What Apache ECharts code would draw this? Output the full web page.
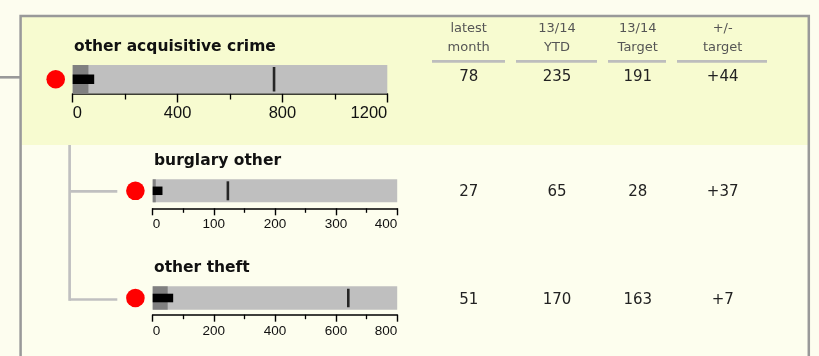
<!DOCTYPE html>
<html>
<head>
<meta charset="utf-8">
<script src="https://cdn.jsdelivr.net/npm/echarts@6/dist/echarts.min.js"></script>
<style>
html,body{margin:0;padding:0;background:#fdfdef;}
#chart{width:819px;height:356px;}
</style>
</head>
<body>
<div id="chart"></div>
<script>
// ---- data ----
const categories = ['other acquisitive crime', 'burglary other', 'other theft'];
const rangeMax = [1200, 400, 800];      // light grey qualitative range
const rangeLow = [60, 5, 49];           // dark grey qualitative range
const actual = [82, 16, 67];            // black bar
const marker = [768, 123, 640];         // target tick
const axisInterval = [400, 100, 200];
const headers = ['latest\nmonth', '13/14\nYTD', '13/14\nTarget', '+/-\ntarget'];
const latestMonth = ['78', '27', '51'];
const ytd = ['235', '65', '170'];
const targetVals = ['191', '28', '163'];
const plusMinus = ['+44', '+37', '+7'];

// ---- layout (not data) ----
const gridBoxes = [
  {left: 72.7, width: 314.6, top: 65, height: 28.5, offset: 0, barW: 9.5, mk: 24.5, fs: 16.5, margin: 11.5, tl: 9, ml: 6, dotMargin: 7.7},
  {left: 152.7, width: 244.5, top: 179.3, height: 23, offset: 6, barW: 8.5, mk: 19, fs: 13.5, margin: 8.5, tl: 7, ml: 4.5, dotMargin: 8},
  {left: 152.7, width: 244.5, top: 286.3, height: 23.4, offset: 5, barW: 8.6, mk: 18.5, fs: 13.5, margin: 9.5, tl: 7, ml: 4.5, dotMargin: 8}
];
const titleXY = [[74, 47], [154, 161], [154, 268.3]];
const rowY = [77.5, 192, 300];
const colX = [468.7, 557, 637.7, 722.7];
const underline = [[432, 505], [516, 597], [608, 666], [677, 767]];
const AXFONT = "'Liberation Sans Narrow', 'Liberation Sans', sans-serif";

const grids = [], xAxes = [], yAxes = [], series = [];
categories.forEach((cat, i) => {
  const g = gridBoxes[i];
  grids.push({left: g.left, top: g.top, width: g.width, height: g.height, containLabel: false});
  xAxes.push({
    gridIndex: i, type: 'value', min: 0, max: rangeMax[i], interval: axisInterval[i],
    offset: g.offset,
    axisLine: {show: true, onZero: false, lineStyle: {color: '#000', width: 1.6}},
    axisTick: {show: true, length: g.tl, lineStyle: {color: '#000', width: 1.4}},
    minorTick: {show: true, splitNumber: 2, length: g.ml, lineStyle: {color: '#000', width: 1.3}},
    splitLine: {show: false}, minorSplitLine: {show: false},
    axisLabel: {margin: g.margin, fontSize: g.fs, fontFamily: AXFONT, color: '#111',
      formatter: v => String(v),
      alignMinLabel: 'left', alignMaxLabel: 'right'}
  });
  yAxes.push({
    gridIndex: i, type: 'category', data: [cat],
    axisLine: {show: false}, axisTick: {show: false}, splitLine: {show: false},
    axisLabel: {show: true, margin: g.dotMargin, formatter: () => '{dot|}',
      rich: {dot: {width: 18.6, height: 18.6, borderRadius: 9.3, backgroundColor: '#ff0000'}}}
  });
  yAxes.push({
    gridIndex: i, type: 'category', data: [cat], show: false
  });
  const yi = i * 2;
  series.push({type: 'bar', xAxisIndex: i, yAxisIndex: yi, data: [rangeMax[i]],
    barWidth: '100%', barGap: '-100%', itemStyle: {color: '#bfbfbf'}, silent: true});
  series.push({type: 'bar', xAxisIndex: i, yAxisIndex: yi, data: [rangeLow[i]],
    barWidth: '100%', barGap: '-100%', itemStyle: {color: '#808080'}, silent: true});
  series.push({type: 'bar', xAxisIndex: i, yAxisIndex: yi + 1, data: [actual[i]],
    barWidth: g.barW, itemStyle: {color: '#000'}, z: 3, silent: true});
  series.push({type: 'scatter', xAxisIndex: i, yAxisIndex: yi, data: [[marker[i], 0]],
    symbol: 'rect', symbolSize: [2.6, g.mk], itemStyle: {color: '#000'}, z: 4, silent: true});
});

const graphics = [];
// backgrounds
graphics.push({type: 'rect', shape: {x: 21.5, y: 17, width: 787, height: 128}, style: {fill: '#f7fbd0'}, z: -10, silent: true});
graphics.push({type: 'rect', shape: {x: 21.5, y: 145, width: 787, height: 220}, style: {fill: '#fdfeee'}, z: -10, silent: true});
graphics.push({type: 'rect', shape: {x: 20.6, y: 16, width: 788.2, height: 400}, style: {fill: null, stroke: '#999', lineWidth: 2.5}, z: -5, silent: true});
graphics.push({type: 'line', shape: {x1: 0, y1: 77.3, x2: 20, y2: 77.3}, style: {stroke: '#999', lineWidth: 2.6}, z: -5, silent: true});
// tree
graphics.push({type: 'line', shape: {x1: 69.6, y1: 145, x2: 69.6, y2: 300.8}, style: {stroke: '#c0c0c0', lineWidth: 2.7}, silent: true});
graphics.push({type: 'line', shape: {x1: 69.6, y1: 191.3, x2: 117.3, y2: 191.3}, style: {stroke: '#c0c0c0', lineWidth: 2.7}, silent: true});
graphics.push({type: 'line', shape: {x1: 69.6, y1: 299.5, x2: 117.3, y2: 299.5}, style: {stroke: '#c0c0c0', lineWidth: 2.7}, silent: true});
// titles
categories.forEach((cat, i) => {
  graphics.push({type: 'text', x: titleXY[i][0], y: titleXY[i][1], silent: true,
    style: {text: cat, fill: '#111', font: 'bold 15.5px "DejaVu Sans"', align: 'left', verticalAlign: 'middle'}});
});
// headers
headers.forEach((h, j) => {
  graphics.push({type: 'text', x: colX[j], y: 38, silent: true,
    style: {text: h, fill: '#555', font: '13px "DejaVu Sans"', lineHeight: 19.4, align: 'center', verticalAlign: 'middle'}});
  graphics.push({type: 'line', shape: {x1: underline[j][0], y1: 61.3, x2: underline[j][1], y2: 61.3},
    style: {stroke: '#bdbdbd', lineWidth: 2.7}, silent: true});
});
// values
const cols = [latestMonth, ytd, targetVals, plusMinus];
categories.forEach((cat, i) => {
  cols.forEach((col, j) => {
    graphics.push({type: 'text', x: colX[j], y: rowY[i], silent: true,
      style: {text: col[i], fill: '#222', font: '15px "DejaVu Sans"', align: 'center', verticalAlign: 'middle'}});
  });
});

const chart = echarts.init(document.getElementById('chart'), null, {renderer: 'canvas'});
chart.setOption({
  backgroundColor: '#fdfdef',
  animation: false,
  grid: grids, xAxis: xAxes, yAxis: yAxes, series: series,
  graphic: graphics
});
</script>
</body>
</html>
